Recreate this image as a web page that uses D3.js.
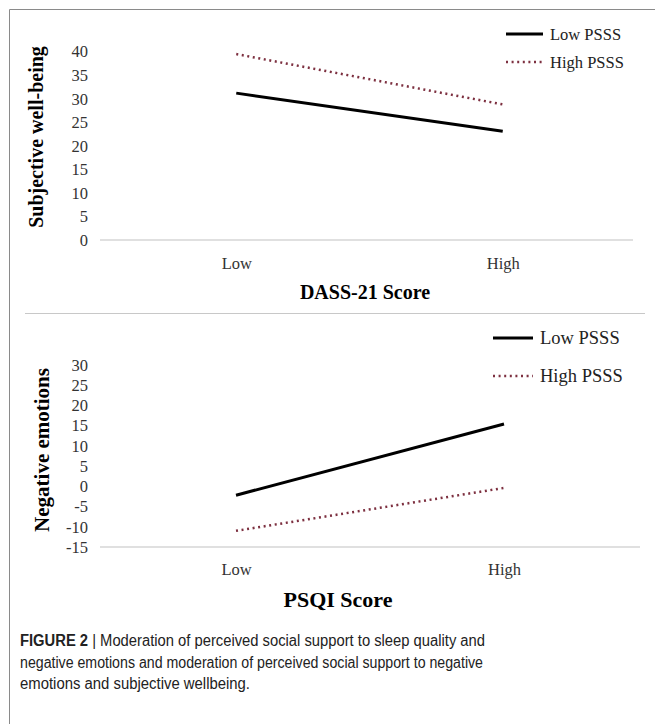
<!DOCTYPE html>
<html>
<head>
<meta charset="utf-8">
<script src="https://cdn.jsdelivr.net/npm/d3@7"></script>
<style>
  body { margin: 0; background: #fff; }
  svg { display: block; }
</style>
</head>
<body>
<div id="chart"></div>
<script>
// categories on the x axis (same for both panels)
const categories = ["Low", "High"];
const seriesNames = ["Low PSSS", "High PSSS"];

// panel 1: subjective well-being vs DASS-21 score
const swbLowPSSS = [31.2, 23.1];
const swbHighPSSS = [39.5, 28.8];
const swbTicks = [0, 5, 10, 15, 20, 25, 30, 35, 40];

// panel 2: negative emotions vs PSQI score
const neLowPSSS = [-2.2, 15.4];
const neHighPSSS = [-11, -0.4];
const neTicks = [-15, -10, -5, 0, 5, 10, 15, 20, 25, 30];

const W = 655, H = 724;
const serif = "'Liberation Serif', 'DejaVu Serif', serif";
const dotColor = "#7d3040";

const svg = d3.select("#chart").append("svg")
  .attr("width", W)
  .attr("height", H);

// frame round the figure
svg.append("path")
  .attr("d", "M9.5," + H + "V9.5H" + W)
  .attr("fill", "none")
  .attr("stroke", "#8a8a8a")
  .attr("stroke-width", 1);

// separator between the two panels
svg.append("line")
  .attr("x1", 25).attr("x2", 645)
  .attr("y1", 313.5).attr("y2", 313.5)
  .attr("stroke", "#c8c8c8")
  .attr("stroke-width", 1);

function drawPanel(p) {
  const x = d3.scalePoint()
    .domain(categories)
    .range(p.xRange)
    .padding(0.5);

  const y = d3.scaleLinear()
    .domain(p.yDomain)
    .range(p.yRange);

  const g = svg.append("g");

  // baseline
  g.append("line")
    .attr("x1", p.baseX[0]).attr("x2", p.baseX[1])
    .attr("y1", y(p.yDomain[0])).attr("y2", y(p.yDomain[0]))
    .attr("stroke", "#d6d6d6")
    .attr("stroke-width", 1.5);

  // y axis (plain hyphen for negatives, as in the original)
  const yAxis = g.append("g")
    .attr("transform", "translate(91,0)")
    .call(d3.axisLeft(y).tickValues(p.ticks).tickSize(0).tickPadding(3)
      .tickFormat(d => String(d)));
  yAxis.select(".domain").remove();
  yAxis.selectAll("text")
    .attr("font-family", serif)
    .attr("font-size", 16.5)
    .attr("fill", "#333");

  // x axis
  const xAxis = g.append("g")
    .attr("transform", "translate(0," + y(p.yDomain[0]) + ")")
    .call(d3.axisBottom(x).tickSize(0).tickPadding(p.xPad));
  xAxis.select(".domain").remove();
  xAxis.selectAll("text")
    .attr("font-family", serif)
    .attr("font-size", 16.5)
    .attr("fill", "#333");

  // lines
  const line = d3.line()
    .x((d, i) => x(categories[i]))
    .y(d => y(d));

  g.append("path")
    .datum(p.low)
    .attr("d", line)
    .attr("fill", "none")
    .attr("stroke", "#000")
    .attr("stroke-width", 3);

  g.append("path")
    .datum(p.high)
    .attr("d", line)
    .attr("fill", "none")
    .attr("stroke", dotColor)
    .attr("stroke-width", 2.5)
    .attr("stroke-dasharray", "2,3.6");

  // axis titles
  g.append("text")
    .attr("transform", "translate(" + p.yTitle[0] + "," + p.yTitle[1] + ") rotate(-90)")
    .attr("text-anchor", "middle")
    .attr("font-family", serif)
    .attr("font-weight", "bold")
    .attr("font-size", p.yTitleSize)
    .text(p.yLabel);

  g.append("text")
    .attr("x", p.xTitle[0]).attr("y", p.xTitle[1])
    .attr("text-anchor", "middle")
    .attr("font-family", serif)
    .attr("font-weight", "bold")
    .attr("font-size", p.xTitleSize)
    .text(p.xLabel);

  // legend
  const leg = g.append("g")
    .attr("transform", "translate(" + p.legend[0] + "," + p.legend[1] + ")");
  seriesNames.forEach((name, i) => {
    const row = leg.append("g").attr("transform", "translate(0," + i * p.legendGap + ")");
    row.append("line")
      .attr("x1", 0).attr("x2", p.legendLen)
      .attr("stroke", i === 0 ? "#000" : dotColor)
      .attr("stroke-width", i === 0 ? 3 : 2.5)
      .attr("stroke-dasharray", i === 0 ? null : "2,3.6");
    row.append("text")
      .attr("x", p.legendLen + 7)
      .attr("dy", "0.35em")
      .attr("font-family", serif)
      .attr("font-size", p.legendSize)
      .attr("fill", "#222")
      .text(name);
  });
}

drawPanel({
  xRange: [103, 636], baseX: [100, 633],
  yDomain: [0, 40], yRange: [240, 51.7], ticks: swbTicks,
  low: swbLowPSSS, high: swbHighPSSS, xPad: 17,
  yLabel: "Subjective well-being", yTitle: [43, 137], yTitleSize: 20,
  xLabel: "DASS-21 Score", xTitle: [365, 299], xTitleSize: 20,
  legend: [506, 34], legendGap: 28, legendLen: 37, legendSize: 16.5
});

drawPanel({
  xRange: [102, 638], baseX: [100, 640],
  yDomain: [-15, 30], yRange: [547, 365], ticks: neTicks,
  low: neLowPSSS, high: neHighPSSS, xPad: 16,
  yLabel: "Negative emotions", yTitle: [49, 450], yTitleSize: 21,
  xLabel: "PSQI Score", xTitle: [338, 607], xTitleSize: 22,
  legend: [493, 338], legendGap: 38, legendLen: 40, legendSize: 18.5
});

// caption
const caption = svg.append("text")
  .attr("font-family", "'Liberation Sans', Arial, sans-serif")
  .attr("font-size", 16)
  .attr("fill", "#222");

const line1 = caption.append("tspan").attr("x", 20).attr("y", 646)
  .attr("textLength", 465).attr("lengthAdjust", "spacingAndGlyphs");
line1.append("tspan").attr("font-weight", "bold").text("FIGURE 2");
line1.append("tspan").text(" | Moderation of perceived social support to sleep quality and");

caption.append("tspan").attr("x", 20).attr("y", 668)
  .attr("textLength", 463).attr("lengthAdjust", "spacingAndGlyphs")
  .text("negative emotions and moderation of perceived social support to negative");
caption.append("tspan").attr("x", 20).attr("y", 689)
  .attr("textLength", 230).attr("lengthAdjust", "spacingAndGlyphs")
  .text("emotions and subjective wellbeing.");
</script>
</body>
</html>
